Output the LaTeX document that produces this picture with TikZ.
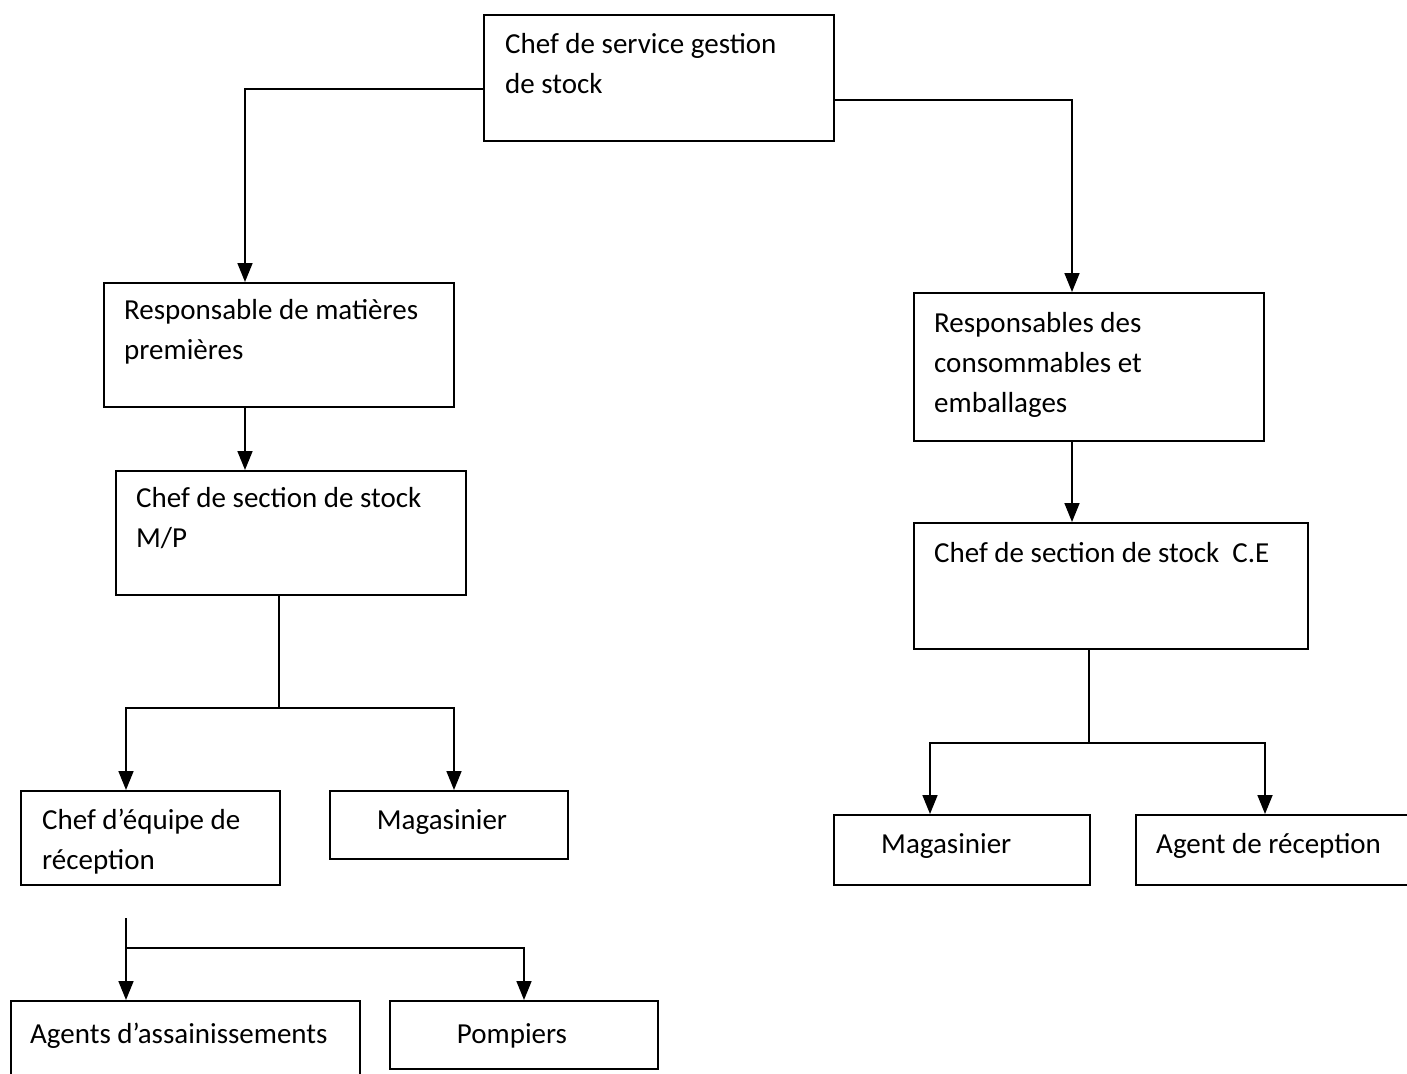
\documentclass[tikz,border=0pt]{standalone}
\usepackage{fontspec}
\setmainfont{Carlito}
\usetikzlibrary{arrows.meta}
\begin{document}
\begin{tikzpicture}[x=1pt,y=-1pt,
  box/.style={draw=black,line width=1.7pt,rectangle,inner sep=0pt,anchor=north west},
  % multi-line labels are anchored at the baseline of their last line
  txt/.style={inner sep=0pt,align=left,anchor=base west,font=\fontsize{29}{40}\selectfont},
  txtc/.style={inner sep=0pt,anchor=base,font=\fontsize{29}{40}\selectfont},
  link/.style={line width=1.7pt},
  arr/.style={line width=1.7pt,-{Triangle[width=15pt,length=19pt]}}]
\useasboundingbox (0,0) rectangle (1407,1073);
\clip (0,0) rectangle (1407,1073);

% boxes
\node[box,minimum width=350pt,minimum height=126pt] (top) at (483,14) {};
\node[box,minimum width=350pt,minimum height=124pt] (respmp) at (103,282) {};
\node[box,minimum width=350pt,minimum height=124pt] (chefmp) at (115,470) {};
\node[box,minimum width=259pt,minimum height=94pt] (chefeq) at (20,790) {};
\node[box,minimum width=238pt,minimum height=68pt] (mag1) at (329,790) {};
\node[box,minimum width=349pt,minimum height=90pt] (agents) at (10,1000) {};
\node[box,minimum width=268pt,minimum height=68pt] (pomp) at (389,1000) {};
\node[box,minimum width=350pt,minimum height=148pt] (respce) at (913,292) {};
\node[box,minimum width=394pt,minimum height=126pt] (chefce) at (913,522) {};
\node[box,minimum width=256pt,minimum height=70pt] (mag2) at (833,814) {};
\node[box,minimum width=300pt,minimum height=70pt] (agent) at (1135,814) {};

% labels
\node[txt] (ttop) at (505,93) {Chef de service gestion\\de stock};
\node[txt] (trespmp) at (124,359) {Responsable de matières\\premières};
\node[txt] (tchefmp) at (136,547) {Chef de section de stock\\M/P};
\node[txt] (tchefeq) at (42,869) {Chef d’équipe de\\réception};
\node[txtc] (tmag1) at (442,829) {Magasinier};
\node[txt] (tagents) at (30,1043) {Agents d’assainissements};
\node[txtc] (tpomp) at (512,1043) {Pompiers};
\node[txt] (trespce) at (934,412) {Responsables des\\consommables et\\emballages};
\node[txt] (tchefce) at (934,562) {Chef de section de stock\ \ C.E};
\node[txt] (tmag2) at (881,853) {Magasinier};
\node[txt] (tagent) at (1156,853) {Agent de réception};

% connectors
\draw[arr] (top.west |- 0,89) -| (respmp.north -| 245,0);
\draw[arr] (top.east |- 0,100) -| (respce.north -| 1072,0);
\draw[arr] (respmp.south -| 245,0) -- (chefmp.north -| 245,0);
\draw[arr] (respce.south -| 1072,0) -- (chefce.north -| 1072,0);

\coordinate (jmp) at (279,708);
\draw[link] (chefmp.south -| jmp) -- (jmp);
\draw[arr] (jmp) -| (chefeq.north -| 126,0);
\draw[arr] (jmp) -| (mag1.north -| 454,0);

\coordinate (stub) at (126,918);
\coordinate (jeq) at (126,948);
\draw[arr] (stub) -- (agents.north -| stub);
\draw[arr] (jeq) -| (pomp.north -| 524,0);

\coordinate (jce) at (1089,743);
\draw[link] (chefce.south -| jce) -- (jce);
\draw[arr] (jce) -| (mag2.north -| 930,0);
\draw[arr] (jce) -| (agent.north -| 1265,0);
\end{tikzpicture}
\end{document}
